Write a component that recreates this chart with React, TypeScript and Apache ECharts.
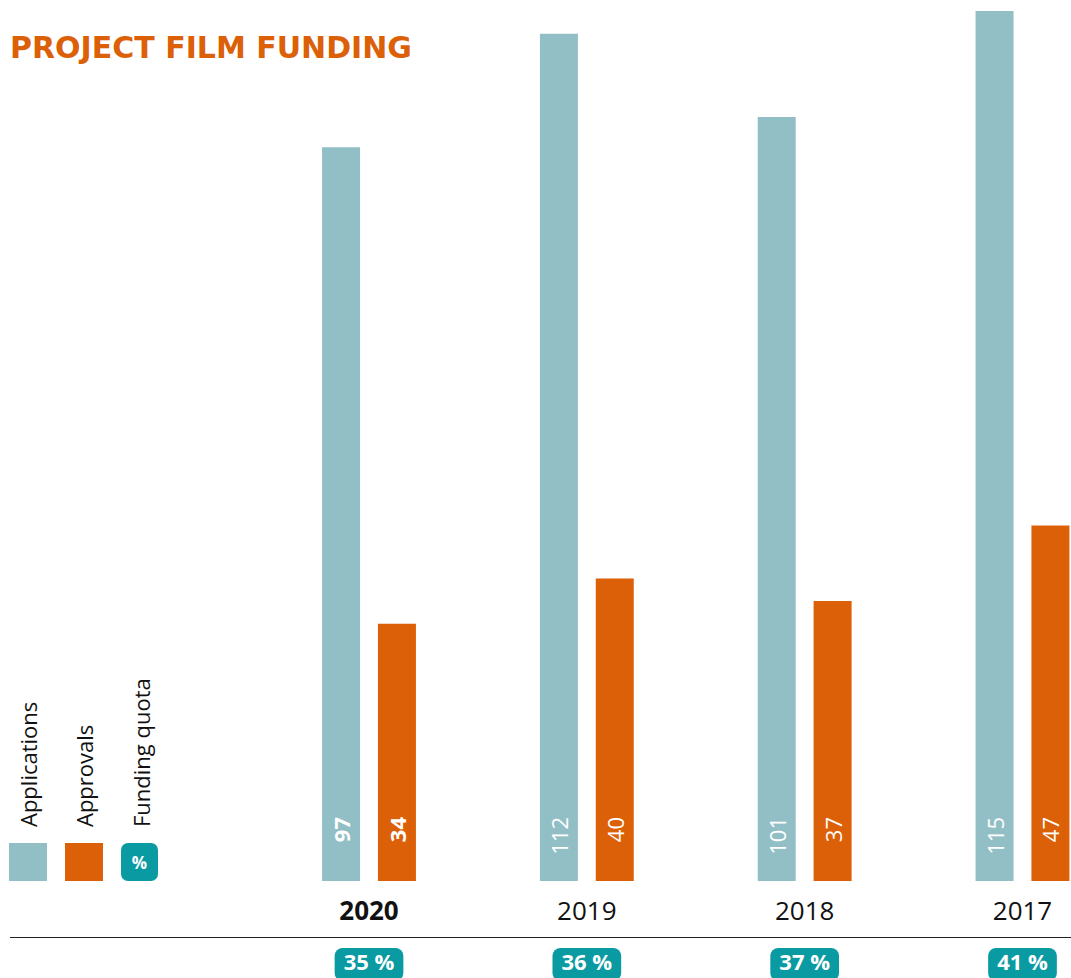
import React, { useEffect, useRef } from "react";
import * as echarts from "echarts";

const years = ["2020", "2019", "2018", "2017"];
const applications = [97, 112, 101, 115];
const approvals = [34, 40, 37, 47];
const fundingQuota = [35, 36, 37, 41];

const FONT = "'Open Sans', 'Noto Sans', sans-serif";
const C_APP = "#92bfc6";
const C_APR = "#dc6008";
const C_TEAL = "#0a9aa2";

export default function App() {
  const ref = useRef<HTMLDivElement>(null);
  useEffect(() => {
    if (!ref.current) return;
    const chart = echarts.init(ref.current, null, { renderer: "svg" });
    const labelBase = {
      show: true,
      position: "insideBottom",
      distance: 64,
      rotate: 90,
      align: "right",
      verticalAlign: "middle",
      color: "#ffffff",
      fontFamily: FONT,
      fontSize: 22,
      fontWeight: "normal",
    };
    chart.setOption({
      animation: false,
      textStyle: { fontFamily: FONT },
      grid: {
        left: 369,
        right: 48.5,
        top: 11,
        bottom: 97,
        containLabel: false,
        outerBoundsMode: "none",
      },
      xAxis: [
        {
          type: "category",
          data: years,
          boundaryGap: false,
          axisLine: { show: false },
          axisTick: { show: false },
          splitLine: { show: false },
          axisLabel: {
            margin: 16,
            color: "#111",
            fontSize: 26,
            fontFamily: FONT,
            formatter: (v: string, i: number) => (i === 0 ? `{b|${v}}` : `{n|${v}}`),
            rich: {
              b: { fontWeight: "bold", fontSize: 26, color: "#111", fontFamily: FONT },
              n: { fontWeight: "normal", fontSize: 26, color: "#111", fontFamily: FONT },
            },
          },
        },
        {
          type: "category",
          data: years,
          position: "bottom",
          boundaryGap: false,
          axisLine: { show: false },
          axisTick: { show: false },
          axisLabel: {
            margin: 67,
            color: "#fff",
            fontSize: 22,
            lineHeight: 20,
            fontWeight: "bold",
            fontFamily: FONT,
            backgroundColor: C_TEAL,
            borderRadius: 8,
            padding: [3, 9, 10, 9],
            formatter: (_v: string, i: number) => `${fundingQuota[i]} %`,
          },
        },
      ],
      yAxis: {
        type: "value",
        min: 0,
        max: "dataMax",
        show: false,
        splitLine: { show: false },
      },
      series: [
        {
          name: "Applications",
          type: "bar",
          barWidth: 38,
          barGap: "47%",
          itemStyle: { color: C_APP },
          label: labelBase,
          data: applications.map((v, i) => ({
            value: v,
            label: i === 0 ? { fontWeight: "bold" } : {},
          })),
        },
        {
          name: "Approvals",
          type: "bar",
          barWidth: 38,
          itemStyle: { color: C_APR },
          label: labelBase,
          data: approvals.map((v, i) => ({
            value: v,
            label: i === 0 ? { fontWeight: "bold" } : {},
          })),
        },
      ],
      graphic: [
        {
          type: "text",
          x: 10,
          y: 47,
          style: {
            text: "PROJECT FILM FUNDING",
            fill: C_APR,
            font: `bold 30px 'DejaVu Sans', sans-serif`,
            verticalAlign: "middle",
            align: "left",
          },
        },
        {
          type: "line",
          shape: { x1: 10, y1: 937.5, x2: 1071, y2: 937.5 },
          style: { stroke: "#222", lineWidth: 1 },
        },
        { type: "rect", shape: { x: 9, y: 843, width: 38, height: 38 }, style: { fill: C_APP } },
        { type: "rect", shape: { x: 65, y: 843, width: 38, height: 38 }, style: { fill: C_APR } },
        {
          type: "rect",
          shape: { x: 121, y: 843, width: 37, height: 38, r: 7 },
          style: { fill: C_TEAL },
        },
        {
          type: "text",
          x: 139.5,
          y: 862,
          style: {
            text: "%",
            fill: "#fff",
            font: `bold 17px ${FONT}`,
            align: "center",
            verticalAlign: "middle",
          },
        },
        ...[
          { t: "Applications", x: 28 },
          { t: "Approvals", x: 84 },
          { t: "Funding quota", x: 141 },
        ].map((d) => ({
          type: "text",
          x: d.x,
          y: 827,
          rotation: Math.PI / 2,
          style: {
            text: d.t,
            fill: "#111",
            font: `22px ${FONT}`,
            align: "left",
            verticalAlign: "middle",
          },
        })),
      ],
    });
    return () => chart.dispose();
  }, []);
  return (
    <div
      ref={ref}
      style={{ position: "absolute", left: 0, top: 0, width: 1071, height: 978, background: "#fff" }}
    />
  );
}
